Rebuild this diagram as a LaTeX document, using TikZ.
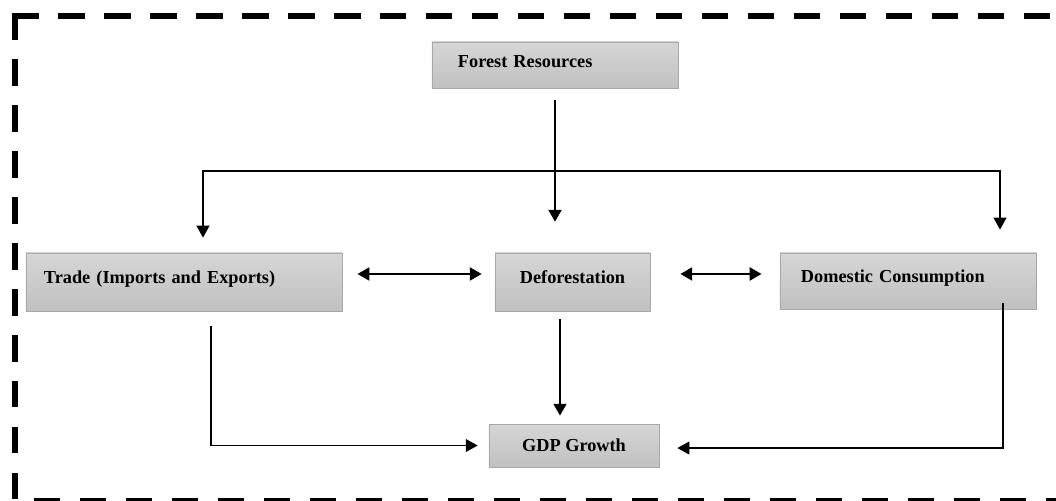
\documentclass[tikz,border=0pt]{standalone}
\usepackage{fontspec}
\setmainfont{Liberation Serif}
\usetikzlibrary{arrows.meta}
\definecolor{boxtop}{RGB}{214,214,214}
\definecolor{boxbot}{RGB}{192,192,192}
\definecolor{boxline}{RGB}{168,168,168}

\begin{document}
\begin{tikzpicture}[x=0.025cm, y=-0.025cm, >={Triangle[length=8.5pt,width=9pt]},
    box/.style={draw=boxline, top color=boxtop, bottom color=boxbot, inner sep=0pt,
      font=\fontsize{13}{15}\selectfont\bfseries, text height=9pt},
    heavy/.style={line width=2.1pt},
    light/.style={line width=1.3pt},
    frame/.style={line width=3.6pt, line cap=rect, dash pattern=on 15pt off 17.7pt}]
      \clip (0,0) rectangle (1056,500);
      % dashed frame
      \draw[frame] (15,16) -- (1090,16);
      \draw[frame] (15,16) -- (15,520);
      \draw[frame, dash phase=17.4pt] (15,500.5) -- (1090,500.5);
      % boxes
      \node[box, minimum width=6.15cm, minimum height=1.15cm, inner xsep=0.65cm,
        text width=4.85cm, align=left, text depth=6pt] (forest) at (555,65) {Forest Resources};
      \node[box, minimum width=7.9cm, minimum height=1.45cm, inner xsep=0.45cm,
        text width=7cm, align=left, text depth=7.5pt] (trade) at (184,282) {Trade (Imports and Exports)};
      \node[box, minimum width=3.875cm, minimum height=1.45cm, text depth=7.5pt] (defor) at (572.5,282) {Deforestation};
      \node[box, minimum width=6.4cm, minimum height=1.4cm, inner xsep=0.525cm,
        text width=5.35cm, align=left, text depth=7.5pt] (dom) at (908,281) {Domestic Consumption};
      \node[box, minimum width=4.25cm, minimum height=1.075cm, text depth=0pt] (gdp) at (574,445.5) {GDP Growth};
      % connectors
      \coordinate (hubL) at (203,171);
      \coordinate (hubR) at (1000,171);
      \draw[heavy, ->, shorten <=8.5pt, shorten >=22pt] (forest.south) -- (forest.south |- defor.north);
      \draw[light, <->, shorten <=10.7pt, shorten >=16.4pt] (hubL |- trade.north) -- (hubL) -- (hubR) -- (hubR |- dom.north);
      \draw[heavy, <->, shorten <=10.7pt, shorten >=9.2pt] ([yshift=5.7pt]trade.east) -- ([yshift=5.7pt]defor.west);
      \draw[heavy, <->, shorten <=21.3pt, shorten >=12.8pt] ([yshift=5.7pt]defor.east) -- ([yshift=5.7pt]defor.east -| dom.west);
      \draw[heavy, ->, shorten <=5.7pt, shorten >=5.7pt] ([xshift=-8.9pt]defor.south) -- ([xshift=-8.9pt]defor.south |- gdp.north);
      \draw[light, ->, shorten <=10.7pt, shorten >=7.8pt] ([xshift=19.2pt]trade.south) |- (gdp.west);
      \draw[light, ->, shorten <=-4.3pt, shorten >=12.8pt] ([xshift=67.6pt]dom.south) |- ([yshift=-1.8pt]gdp.east);
    \end{tikzpicture}
\end{document}
